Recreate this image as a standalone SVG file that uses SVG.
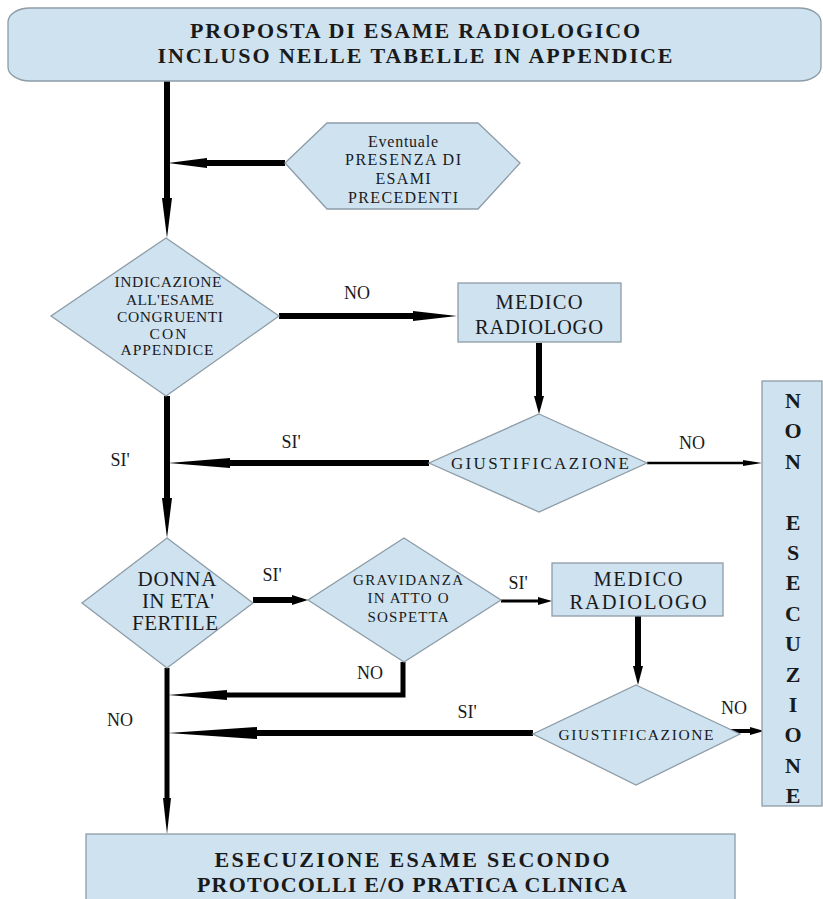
<svg xmlns="http://www.w3.org/2000/svg" width="823" height="899" viewBox="0 0 823 899">
<style>
.box{fill:#cee2f0;stroke:#8d9ca6;stroke-width:1.3}
.t{font-family:"Liberation Serif","Times New Roman",serif;fill:#1a1a1a;text-anchor:middle}
.b{font-weight:bold}
.ln{fill:none;stroke:#000;stroke-linecap:butt;stroke-linejoin:miter}
.ah{fill:#000;stroke:none}
</style>
<rect width="823" height="899" fill="#ffffff"/>
<g id="connectors">
  <line class="ln" x1="167" y1="80" x2="167" y2="200" stroke-width="6"/>
  <polygon class="ah" points="162,198 172,198 167,238"/>
  <line class="ln" x1="285" y1="163" x2="205" y2="163" stroke-width="6"/>
  <polygon class="ah" points="207,158 207,168 168,163"/>
  <line class="ln" x1="167" y1="396" x2="167" y2="500" stroke-width="6"/>
  <polygon class="ah" points="162,498 172,498 167,538"/>
  <line class="ln" x1="429" y1="463" x2="228" y2="463" stroke-width="6"/>
  <polygon class="ah" points="230,458 230,468 168,463"/>
  <line class="ln" x1="279" y1="316" x2="415" y2="316" stroke-width="6"/>
  <polygon class="ah" points="413,311 413,321 457,316"/>
  <line class="ln" x1="539" y1="343" x2="539" y2="398" stroke-width="6"/>
  <polygon class="ah" points="534,396 544,396 539,414"/>
  <line class="ln" x1="647" y1="463" x2="745" y2="463" stroke-width="2.5"/>
  <polygon class="ah" points="743,460 743,466 762,463"/>
  <line class="ln" x1="167" y1="668" x2="167" y2="800" stroke-width="5"/>
  <polygon class="ah" points="163,798 171,798 167,834"/>
  <line class="ln" x1="253" y1="600" x2="295" y2="600" stroke-width="6"/>
  <polygon class="ah" points="292,595 292,605 308,600"/>
  <line class="ln" x1="501" y1="601" x2="540" y2="601" stroke-width="3"/>
  <polygon class="ah" points="538,597 538,605 552,601"/>
  <line class="ln" x1="638" y1="616" x2="638" y2="668" stroke-width="6"/>
  <polygon class="ah" points="633,666 643,666 638,685"/>
  <polyline class="ln" points="403,662 403,695 225,695" stroke-width="5"/>
  <polygon class="ah" points="227,690 227,700 168,695"/>
  <line class="ln" x1="533" y1="733" x2="255" y2="733" stroke-width="6"/>
  <polygon class="ah" points="257,727 257,739 168,733"/>
  <line class="ln" x1="720" y1="731" x2="752" y2="731" stroke-width="4"/>
  <polygon class="ah" points="750,727 750,735 764,731"/>
  <g class="t" font-size="18">
    <text x="357" y="299">NO</text>
    <text x="291" y="448">SI'</text>
    <text x="120" y="466">SI'</text>
    <text x="692" y="449">NO</text>
    <text x="272" y="581">SI'</text>
    <text x="518" y="589">SI'</text>
    <text x="370" y="679">NO</text>
    <text x="120" y="726">NO</text>
    <text x="467" y="718">SI'</text>
    <text x="734" y="714">NO</text>
  </g>
</g>
<g id="start">
  <rect class="box" x="8" y="8" width="813" height="73" rx="22" ry="14"/>
  <text class="t b" x="415" y="38" font-size="22" textLength="450">PROPOSTA DI ESAME RADIOLOGICO</text>
  <text class="t b" x="415" y="63" font-size="22" textLength="515">INCLUSO NELLE TABELLE IN APPENDICE</text>
</g>
<g id="esami-precedenti">
  <polygon class="box" points="285,163 327,123 478,123 520,163 478,209 327,209"/>
  <g class="t" font-size="16">
    <text x="403" y="147" textLength="70">Eventuale</text>
    <text x="403" y="165" textLength="116">PRESENZA DI</text>
    <text x="403" y="184" textLength="55">ESAMI</text>
    <text x="403" y="203" textLength="110">PRECEDENTI</text>
  </g>
</g>
<g id="indicazione">
  <polygon class="box" points="166,238 279,316 166,396 51,316"/>
  <g class="t" font-size="15.5">
    <text x="168" y="287" textLength="107">INDICAZIONE</text>
    <text x="170" y="305" textLength="88">ALL'ESAME</text>
    <text x="170" y="322" textLength="106">CONGRUENTI</text>
    <text x="168" y="339" textLength="37">CON</text>
    <text x="167" y="355" textLength="93">APPENDICE</text>
  </g>
</g>
<g id="medico-radiologo-1">
  <rect class="box" x="458" y="283" width="163" height="59"/>
  <text class="t" x="539" y="309" font-size="20.5" textLength="87">MEDICO</text>
  <text class="t" x="539" y="334" font-size="20.5" textLength="128">RADIOLOGO</text>
</g>
<g id="giustificazione-1">
  <polygon class="box" points="539,414 647,463 539,512 429,463"/>
  <text class="t" x="540" y="469" font-size="17" textLength="178">GIUSTIFICAZIONE</text>
</g>
<g id="non-esecuzione">
  <rect class="box" x="762" y="381" width="60" height="425"/>
  <g class="t b" font-size="22">
    <text x="793" y="408">N</text>
    <text x="793" y="438">O</text>
    <text x="793" y="469">N</text>
    <text x="793" y="530">E</text>
    <text x="793" y="560">S</text>
    <text x="793" y="590">E</text>
    <text x="793" y="621">C</text>
    <text x="793" y="651">U</text>
    <text x="793" y="682">Z</text>
    <text x="793" y="712">I</text>
    <text x="793" y="742">O</text>
    <text x="793" y="773">N</text>
    <text x="793" y="803">E</text>
  </g>
</g>
<g id="donna">
  <polygon class="box" points="167,538 253,603 167,668 82,603"/>
  <g class="t" font-size="21">
    <text x="177" y="586" textLength="79">DONNA</text>
    <text x="178" y="608" textLength="72">IN ETA'</text>
    <text x="175" y="630" textLength="86">FERTILE</text>
  </g>
</g>
<g id="gravidanza">
  <polygon class="box" points="404,538 501,600 404,662 308,600"/>
  <g class="t" font-size="15">
    <text x="408" y="585" textLength="110">GRAVIDANZA</text>
    <text x="408" y="603" textLength="81">IN ATTO O</text>
    <text x="408" y="622" textLength="81">SOSPETTA</text>
  </g>
</g>
<g id="medico-radiologo-2">
  <rect class="box" x="552" y="563" width="171" height="53"/>
  <text class="t" x="638" y="586" font-size="20.5" textLength="89">MEDICO</text>
  <text class="t" x="638" y="609" font-size="20.5" textLength="137">RADIOLOGO</text>
</g>
<g id="giustificazione-2">
  <polygon class="box" points="636,685 740,734 636,785 533,734"/>
  <text class="t" x="636" y="740" font-size="15.5" textLength="155">GIUSTIFICAZIONE</text>
</g>
<g id="esecuzione">
  <rect class="box" x="86" y="834" width="649" height="80"/>
  <text class="t b" x="412" y="867" font-size="22" textLength="395">ESECUZIONE ESAME SECONDO</text>
  <text class="t b" x="412" y="892" font-size="22" textLength="430">PROTOCOLLI E/O PRATICA CLINICA</text>
</g>
</svg>
